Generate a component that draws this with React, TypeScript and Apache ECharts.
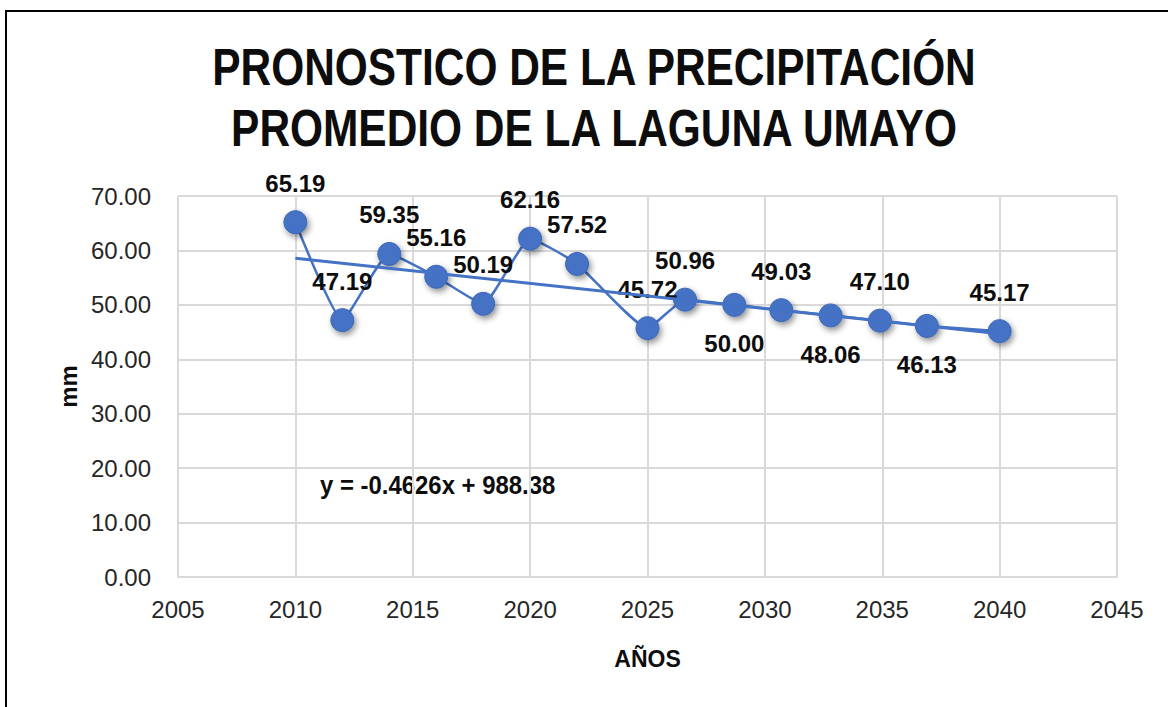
import React, { useEffect, useRef } from "react";
import * as echarts from "echarts";

const years = [2010, 2012, 2014, 2016, 2018, 2020, 2022, 2025, 2026.6, 2028.7, 2030.7, 2032.8, 2034.9, 2036.9, 2040];
const values = [65.19, 47.19, 59.35, 55.16, 50.19, 62.16, 57.52, 45.72, 50.96, 50.0, 49.03, 48.06, 47.1, 46.13, 45.17];
const labelsBelow = [50.0, 48.06, 46.13];
const trendX = [2010, 2040];
const trendY = [58.55, 44.68];
const xTicks = { min: 2005, max: 2045, step: 5 };
const yTicks = { min: 0, max: 70, step: 10 };
const titleLines = ["PRONOSTICO DE LA PRECIPITACIÓN", "PROMEDIO DE LA LAGUNA UMAYO"];
const equation = "y = -0.4626x + 988.38";

const FONT = "'Liberation Sans', Arial, sans-serif";

export default function App() {
  const ref = useRef<HTMLDivElement>(null);
  useEffect(() => {
    if (!ref.current) return;
    const chart = echarts.init(ref.current, null, { renderer: "svg" });
    const blue = "#4472c4";
    const points = years.map((y, i) => ({
      value: [y, values[i]],
      label: { position: labelsBelow.includes(values[i]) ? "bottom" : "top" },
    }));
    chart.setOption({
      animation: false,
      backgroundColor: "#ffffff",
      grid: { left: 178, right: 51, top: 196, bottom: 130, containLabel: false },
      xAxis: {
        type: "value",
        min: xTicks.min,
        max: xTicks.max,
        interval: xTicks.step,
        name: "AÑOS",
        nameLocation: "middle",
        nameGap: 70,
        nameTextStyle: { fontFamily: FONT, fontWeight: "bold", fontSize: 23, color: "#0d0d0d" },
        axisLine: { show: true, lineStyle: { color: "#d9d9d9", width: 2 } },
        axisTick: { show: false },
        axisLabel: {
          fontFamily: FONT,
          fontSize: 24,
          color: "#262626",
          margin: 20,
          formatter: (v: number) => String(v),
        },
        splitLine: { show: true, lineStyle: { color: "#d9d9d9", width: 2 } },
      },
      yAxis: {
        type: "value",
        min: yTicks.min,
        max: yTicks.max,
        interval: yTicks.step,
        name: "mm",
        nameLocation: "middle",
        nameGap: 98,
        nameTextStyle: { fontFamily: FONT, fontWeight: "bold", fontSize: 24, color: "#0d0d0d" },
        axisLine: { show: false },
        axisTick: { show: false },
        axisLabel: {
          fontFamily: FONT,
          fontSize: 24,
          color: "#262626",
          margin: 27,
          formatter: (v: number) => v.toFixed(2),
        },
        splitLine: { show: true, lineStyle: { color: "#d9d9d9", width: 2 } },
      },
      graphic: [
        {
          type: "rect",
          shape: { x: 6, y: 11, width: 1200, height: 760 },
          style: { fill: "none", stroke: "#000000", lineWidth: 2 },
          silent: true,
        },
        {
          type: "text",
          x: 594,
          y: 41,
          scaleX: 0.816,
          style: {
            text: titleLines[0],
            x: 0,
            y: 0,
            align: "center",
            verticalAlign: "top",
            font: `bold 52px ${FONT}`,
            fill: "#0d0d0d",
          },
        },
        {
          type: "text",
          x: 594,
          y: 102,
          scaleX: 0.816,
          style: {
            text: titleLines[1],
            x: 0,
            y: 0,
            align: "center",
            verticalAlign: "top",
            font: `bold 52px ${FONT}`,
            fill: "#0d0d0d",
          },
        },
        {
          type: "text",
          x: 320,
          y: 472,
          scaleX: 0.92,
          style: {
            text: equation,
            x: 0,
            y: 0,
            align: "left",
            verticalAlign: "top",
            font: `bold 26px ${FONT}`,
            fill: "#0d0d0d",
          },
        },
      ],
      series: [
        {
          type: "line",
          data: trendX.map((x, i) => [x, trendY[i]]),
          symbol: "none",
          lineStyle: { color: blue, width: 3 },
          z: 3,
        },
        {
          type: "line",
          data: points,
          smooth: 0.15,
          symbol: "circle",
          symbolSize: 23,
          lineStyle: { color: blue, width: 2.5 },
          itemStyle: {
            color: blue,
            borderColor: "#3b66b5",
            borderWidth: 1,
            shadowBlur: 6,
            shadowColor: "rgba(0,0,0,0.45)",
            shadowOffsetX: 2,
            shadowOffsetY: 3,
          },
          label: {
            show: true,
            distance: 15,
            fontFamily: FONT,
            fontWeight: "bold",
            fontSize: 24,
            color: "#0d0d0d",
            formatter: (p: any) => p.value[1].toFixed(2),
          },
          z: 2,
        },
      ],
    });
    return () => chart.dispose();
  }, []);
  return <div ref={ref} style={{ position: "fixed", left: 0, top: 0, width: 1168, height: 707 }} />;
}
